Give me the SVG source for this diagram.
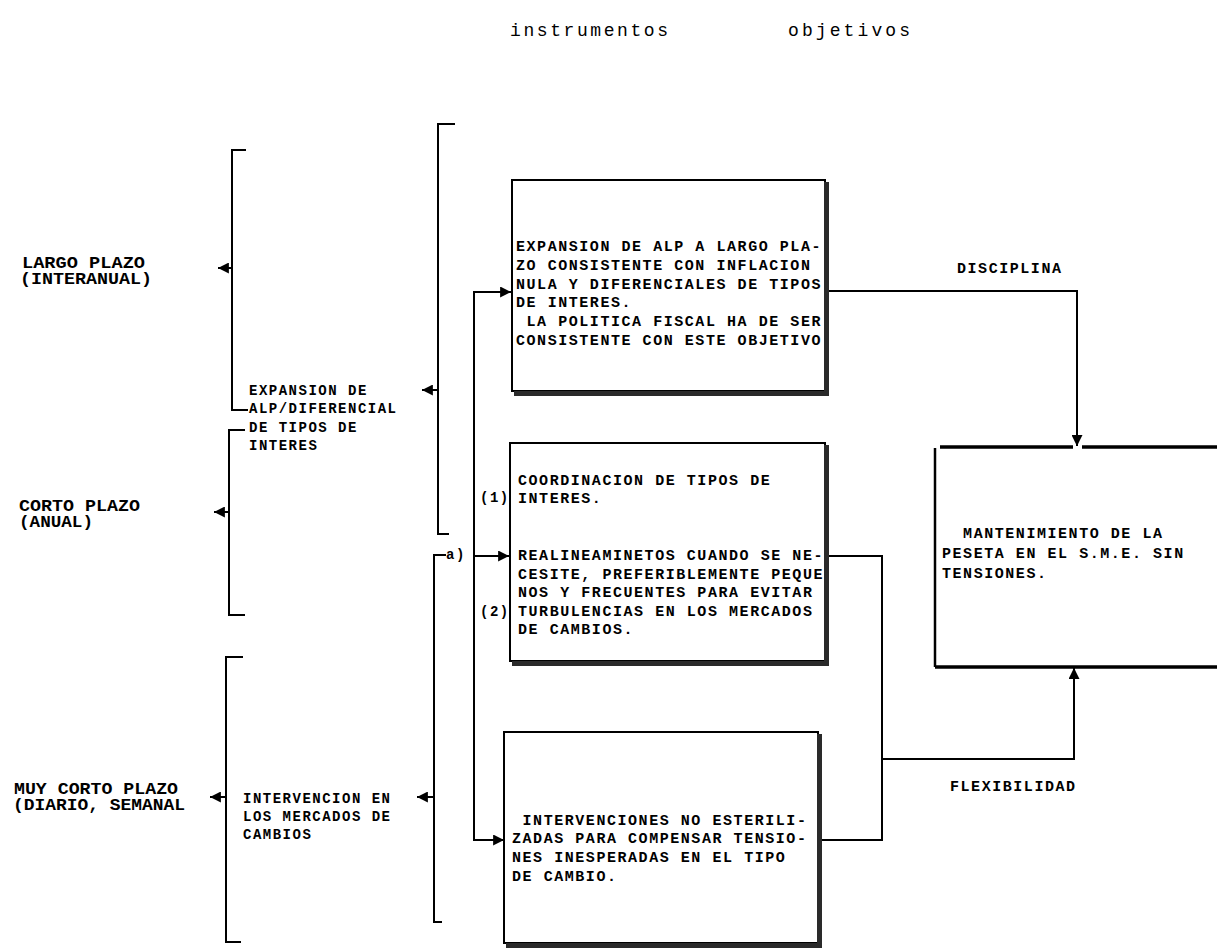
<svg xmlns="http://www.w3.org/2000/svg" width="1217" height="950" viewBox="0 0 1217 950">
<style>
  .ln{fill:none;stroke:#000;stroke-width:2;stroke-linecap:square}
  .bx{fill:#fff;stroke:#000;stroke-width:2}
  .sh{fill:#2a2a2a}
  .t{font-family:"Liberation Mono","DejaVu Sans Mono",monospace;font-weight:bold;font-size:15px;letter-spacing:1.55px;fill:#000}
  .s{font-family:"Liberation Mono","DejaVu Sans Mono",monospace;font-weight:bold;font-size:14px;letter-spacing:1.5px;fill:#000}
  .big{font-family:"Liberation Mono","DejaVu Sans Mono",monospace;font-weight:bold;font-size:16px;fill:#000}
  .hd{font-family:"Liberation Mono","DejaVu Sans Mono",monospace;font-size:18px;fill:#000}
</style>
<defs>
  <marker id="ah" viewBox="0 0 10 10" refX="9" refY="5" markerWidth="11" markerHeight="11" markerUnits="userSpaceOnUse" orient="auto">
    <path d="M0,0 L10,5 L0,10 z" fill="#000"/>
  </marker>
</defs>

<g id="headers">
  <text class="hd" x="510" y="36" textLength="158" lengthAdjust="spacing">instrumentos</text>
  <text class="hd" x="788" y="36" textLength="122" lengthAdjust="spacing">objetivos</text>
</g>

<g id="largo-plazo">
  <text class="big" x="22" y="268" textLength="123" lengthAdjust="spacingAndGlyphs">LARGO PLAZO</text>
  <text class="big" x="20" y="284" textLength="132" lengthAdjust="spacingAndGlyphs">(INTERANUAL)</text>
</g>
<g id="corto-plazo">
  <text class="big" x="19" y="511" textLength="121" lengthAdjust="spacingAndGlyphs">CORTO PLAZO</text>
  <text class="big" x="19" y="527" textLength="74" lengthAdjust="spacingAndGlyphs">(ANUAL)</text>
</g>
<g id="muy-corto-plazo">
  <text class="big" x="14" y="794" textLength="164" lengthAdjust="spacingAndGlyphs">MUY CORTO PLAZO</text>
  <text class="big" x="13" y="810" textLength="172" lengthAdjust="spacingAndGlyphs">(DIARIO, SEMANAL</text>
</g>

<g id="expansion-alp">
  <text class="s" x="249" y="395">EXPANSION DE</text>
  <text class="s" x="249" y="413">ALP/DIFERENCIAL</text>
  <text class="s" x="249" y="432">DE TIPOS DE</text>
  <text class="s" x="249" y="450">INTERES</text>
</g>
<g id="intervencion-mercados">
  <text class="s" x="243" y="803">INTERVENCION EN</text>
  <text class="s" x="243" y="821">LOS MERCADOS DE</text>
  <text class="s" x="243" y="839">CAMBIOS</text>
</g>

<g id="box-expansion">
  <rect class="bx" x="512" y="180" width="313" height="211"/>
  <rect class="sh" x="824" y="182" width="5" height="214"/>
  <rect class="sh" x="514" y="391" width="315" height="5"/>
  <text class="t" x="516" y="251">EXPANSION DE ALP A LARGO PLA-</text>
  <text class="t" x="516" y="270">ZO CONSISTENTE CON INFLACION</text>
  <text class="t" x="516" y="289">NULA Y DIFERENCIALES DE TIPOS</text>
  <text class="t" x="516" y="307">DE INTERES.</text>
  <text class="t" x="516" y="326" xml:space="preserve"> LA POLITICA FISCAL HA DE SER</text>
  <text class="t" x="516" y="345">CONSISTENTE CON ESTE OBJETIVO</text>
</g>

<g id="box-coordinacion">
  <rect class="bx" x="510" y="443" width="315" height="218"/>
  <rect class="sh" x="824" y="445" width="5" height="221"/>
  <rect class="sh" x="512" y="661" width="317" height="5"/>
  <text class="t" x="518" y="485">COORDINACION DE TIPOS DE</text>
  <text class="t" x="518" y="503">INTERES.</text>
  <text class="t" x="518" y="560">REALINEAMINETOS CUANDO SE NE-</text>
  <text class="t" x="518" y="579">CESITE, PREFERIBLEMENTE PEQUE</text>
  <text class="t" x="518" y="597">NOS Y FRECUENTES PARA EVITAR</text>
  <text class="t" x="518" y="616">TURBULENCIAS EN LOS MERCADOS</text>
  <text class="t" x="518" y="634">DE CAMBIOS.</text>
  <text class="s" x="480" y="502">(1)</text>
  <text class="s" x="480" y="616">(2)</text>
</g>

<g id="box-intervenciones">
  <rect class="bx" x="504" y="732" width="314" height="211"/>
  <rect class="sh" x="817" y="734" width="5" height="214"/>
  <rect class="sh" x="506" y="943" width="316" height="5"/>
  <text class="t" x="512" y="825" xml:space="preserve"> INTERVENCIONES NO ESTERILI-</text>
  <text class="t" x="512" y="843">ZADAS PARA COMPENSAR TENSIO-</text>
  <text class="t" x="512" y="862">NES INESPERADAS EN EL TIPO</text>
  <text class="t" x="512" y="881">DE CAMBIO.</text>
</g>

<g id="box-mantenimiento">
  <line x1="935" y1="448" x2="935" y2="667" stroke="#000" stroke-width="2.5"/>
  <line x1="940" y1="447" x2="1073" y2="447" stroke="#000" stroke-width="3.5"/>
  <line x1="1082" y1="447" x2="1217" y2="447" stroke="#000" stroke-width="3.5"/>
  <line x1="935" y1="667" x2="1217" y2="667" stroke="#000" stroke-width="3.5"/>
  <text class="t" x="942" y="538" xml:space="preserve">  MANTENIMIENTO DE LA</text>
  <text class="t" x="942" y="558">PESETA EN EL S.M.E. SIN</text>
  <text class="t" x="942" y="578">TENSIONES.</text>
</g>

<g id="connectors">
  <!-- left brackets -->
  <polyline class="ln" points="245,150 232,150 232,410 247,410"/>
  <polyline class="ln" points="244,430 229,430 229,615 244,615"/>
  <polyline class="ln" points="242,657 226,657 226,942 240,942"/>
  <line class="ln" x1="232" y1="268" x2="219" y2="268" marker-end="url(#ah)"/>
  <line class="ln" x1="229" y1="512" x2="215" y2="512" marker-end="url(#ah)"/>
  <line class="ln" x1="226" y1="797" x2="211" y2="797" marker-end="url(#ah)"/>
  <!-- middle brackets -->
  <polyline class="ln" points="454,124 438,124 438,534 448,534"/>
  <polyline class="ln" points="445,555 434,555 434,922 441,922"/>
  <line class="ln" x1="438" y1="390" x2="423" y2="390" marker-end="url(#ah)"/>
  <line class="ln" x1="434" y1="797" x2="418" y2="797" marker-end="url(#ah)"/>
  <text class="s" x="446" y="559">a)</text>
  <!-- distribution line -->
  <polyline class="ln" points="474,292 474,840 503,840" marker-end="url(#ah)"/>
  <line class="ln" x1="474" y1="292" x2="510" y2="292" marker-end="url(#ah)"/>
  <line class="ln" x1="474" y1="556" x2="508" y2="556" marker-end="url(#ah)"/>
  <!-- to objective -->
  <polyline class="ln" points="830,291 1077,291 1077,445" marker-end="url(#ah)"/>
  <polyline class="ln" points="830,556 882,556 882,840 823,840"/>
  <polyline class="ln" points="882,759 1074,759 1074,669" marker-end="url(#ah)"/>
  <text class="t" x="957" y="273">DISCIPLINA</text>
  <text class="t" x="950" y="791">FLEXIBILIDAD</text>
</g>
</svg>
